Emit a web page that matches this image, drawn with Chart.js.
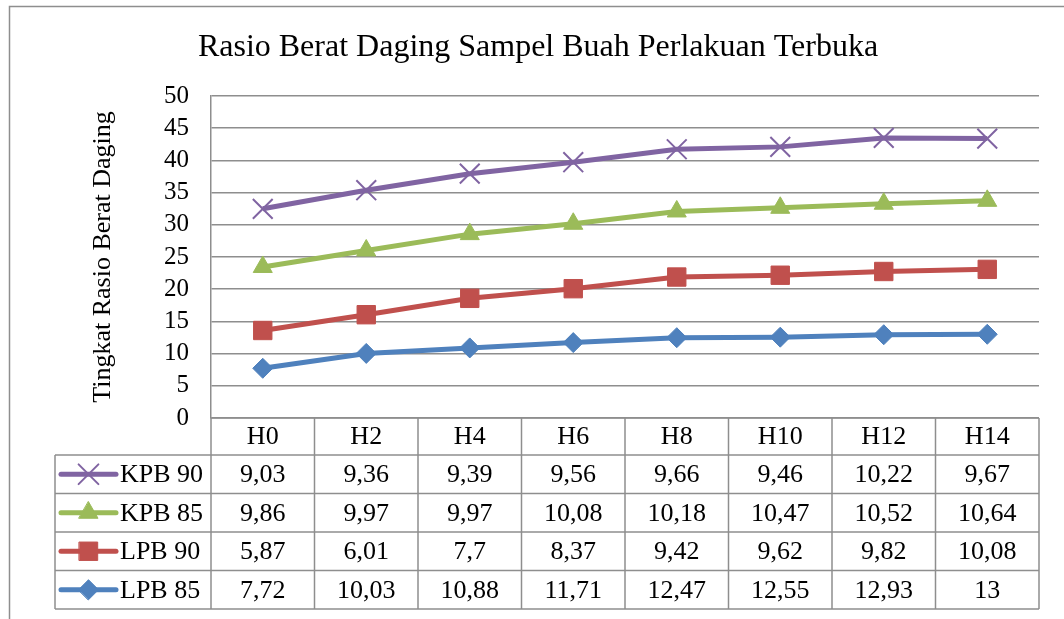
<!DOCTYPE html>
<html>
<head>
  <title>Rasio Berat Daging Sampel Buah Perlakuan Terbuka</title>
  <script src="https://cdn.jsdelivr.net/npm/chart.js"></script>
  <style>
    body {
      margin: 0;
      background-color: #fff;
    }
    #wrap {
      width: 1064px;
      height: 619px;
    }
  </style>
</head>
<body>
  <div id="wrap"><canvas id="rasioChart"></canvas></div>

  <script>
    const hari = ['H0', 'H2', 'H4', 'H6', 'H8', 'H10', 'H12', 'H14'];
    const lpb85 = [7.72, 10.03, 10.88, 11.71, 12.47, 12.55, 12.93, 13];
    const lpb90 = [5.87, 6.01, 7.7, 8.37, 9.42, 9.62, 9.82, 10.08];
    const kpb85 = [9.86, 9.97, 9.97, 10.08, 10.18, 10.47, 10.52, 10.64];
    const kpb90 = [9.03, 9.36, 9.39, 9.56, 9.66, 9.46, 10.22, 9.67];
    const yMin = 0, yMax = 50, yStep = 5;

    const judul = 'Rasio Berat Daging Sampel Buah Perlakuan Terbuka';
    const judulY = 'Tingkat Rasio Berat Daging';
    const serif = "'Liberation Serif', 'Times New Roman', serif";
    const garis = '#8e8e8e';

    // angka pakai koma, seperti di tabel Excel
    const fmt = v => String(v).replace('.', ',');

    function seri(label, data, color, style, radius) {
      const cross = style === 'crossRot';
      return {
        label: label,
        data: data,
        borderColor: color,
        backgroundColor: color,
        borderWidth: 5,
        tension: 0,
        pointStyle: style,
        pointRadius: radius,
        pointHoverRadius: radius,
        pointBackgroundColor: color,
        pointBorderColor: color,
        pointBorderWidth: cross ? 2 : 1
      };
    }

    const tabelPlugin = {
      id: 'tabel',
      beforeDraw(chart) {
        const ctx = chart.ctx;
        ctx.save();
        ctx.fillStyle = '#fff';
        ctx.fillRect(0, 0, chart.width, chart.height);
        ctx.strokeStyle = garis;
        ctx.lineWidth = 1.5;
        ctx.strokeRect(9.5, 6.5, 1200, 800);
        ctx.fillStyle = '#000';
        ctx.font = '32px ' + serif;
        ctx.textAlign = 'center';
        ctx.textBaseline = 'middle';
        ctx.fillText(judul, 538, 48);
        ctx.restore();
      },
      afterDraw(chart) {
        const ctx = chart.ctx;
        const a = chart.chartArea;
        const x = chart.scales.x;
        const colW = x.getPixelForValue(1) - x.getPixelForValue(0);
        const kiri0 = x.getPixelForValue(0) - colW / 2;
        const top = a.bottom, headH = 37, rowH = 38.5, legKiri = 55;
        const rows = chart.data.datasets.slice().reverse();
        const bottom = top + headH + rows.length * rowH;

        ctx.save();
        ctx.strokeStyle = garis;
        ctx.lineWidth = 1.5;
        ctx.beginPath();
        ctx.moveTo(a.left, top);
        ctx.lineTo(a.right, top);
        for (let r = 0; r <= rows.length; r++) {
          const y = top + headH + r * rowH;
          ctx.moveTo(legKiri, y);
          ctx.lineTo(a.right, y);
        }
        for (let i = 0; i <= hari.length; i++) {
          const xx = kiri0 + i * colW;
          ctx.moveTo(xx, top);
          ctx.lineTo(xx, bottom);
        }
        ctx.moveTo(legKiri, top + headH);
        ctx.lineTo(legKiri, bottom);
        ctx.stroke();

        ctx.fillStyle = '#000';
        ctx.font = '26px ' + serif;
        ctx.textAlign = 'center';
        ctx.textBaseline = 'middle';
        hari.forEach((h, i) => {
          ctx.fillText(h, x.getPixelForValue(i), top + headH / 2 + 1);
        });

        rows.forEach((ds, r) => {
          const yc = top + headH + r * rowH + rowH / 2;
          // contoh garis + penanda di kolom legenda
          ctx.strokeStyle = ds.borderColor;
          ctx.lineWidth = 5;
          ctx.lineCap = 'round';
          ctx.beginPath();
          ctx.moveTo(61, yc);
          ctx.lineTo(116, yc);
          ctx.stroke();
          ctx.fillStyle = ds.pointBackgroundColor;
          ctx.lineWidth = ds.pointBorderWidth;
          Chart.helpers.drawPoint(ctx, {
            pointStyle: ds.pointStyle,
            radius: ds.pointRadius,
            rotation: 0,
            borderWidth: ds.pointBorderWidth
          }, 88.5, yc);

          ctx.fillStyle = '#000';
          ctx.textAlign = 'left';
          ctx.fillText(ds.label, 120, yc + 1);
          ctx.textAlign = 'center';
          ds.data.forEach((v, i) => {
            ctx.fillText(fmt(v), x.getPixelForValue(i), yc + 1);
          });
        });
        ctx.restore();
      }
    };

    const ctx = document.getElementById('rasioChart').getContext('2d');
    new Chart(ctx, {
      type: 'line',
      data: {
        labels: hari,
        datasets: [
          seri('LPB 85', lpb85, '#4F81BD', 'rectRot', 10),
          seri('LPB 90', lpb90, '#C0504D', 'rect', 13),
          seri('KPB 85', kpb85, '#9BBB59', 'triangle', 11),
          seri('KPB 90', kpb90, '#8064A2', 'crossRot', 14)
        ]
      },
      options: {
        responsive: true,
        maintainAspectRatio: false,
        animation: false,
        layout: {
          padding: { top: 96, left: 80, right: 25, bottom: 201 }
        },
        plugins: {
          legend: { display: false },
          title: { display: false },
          tooltip: { enabled: false }
        },
        scales: {
          x: {
            display: false,
            offset: true
          },
          y: {
            stacked: true,
            min: yMin,
            max: yMax,
            afterFit: s => { s.width = 131; },
            ticks: {
              stepSize: yStep,
              autoSkip: false,
              color: '#000',
              padding: 22,
              font: { family: serif, size: 25 }
            },
            grid: {
              color: garis,
              lineWidth: 1.5,
              drawTicks: false
            },
            border: { display: true, color: garis, width: 1.5 },
            title: {
              display: true,
              text: judulY,
              color: '#000',
              padding: { top: 8, bottom: 0 },
              font: { family: serif, size: 26 }
            }
          }
        }
      },
      plugins: [tabelPlugin]
    });
  </script>
</body>
</html>
